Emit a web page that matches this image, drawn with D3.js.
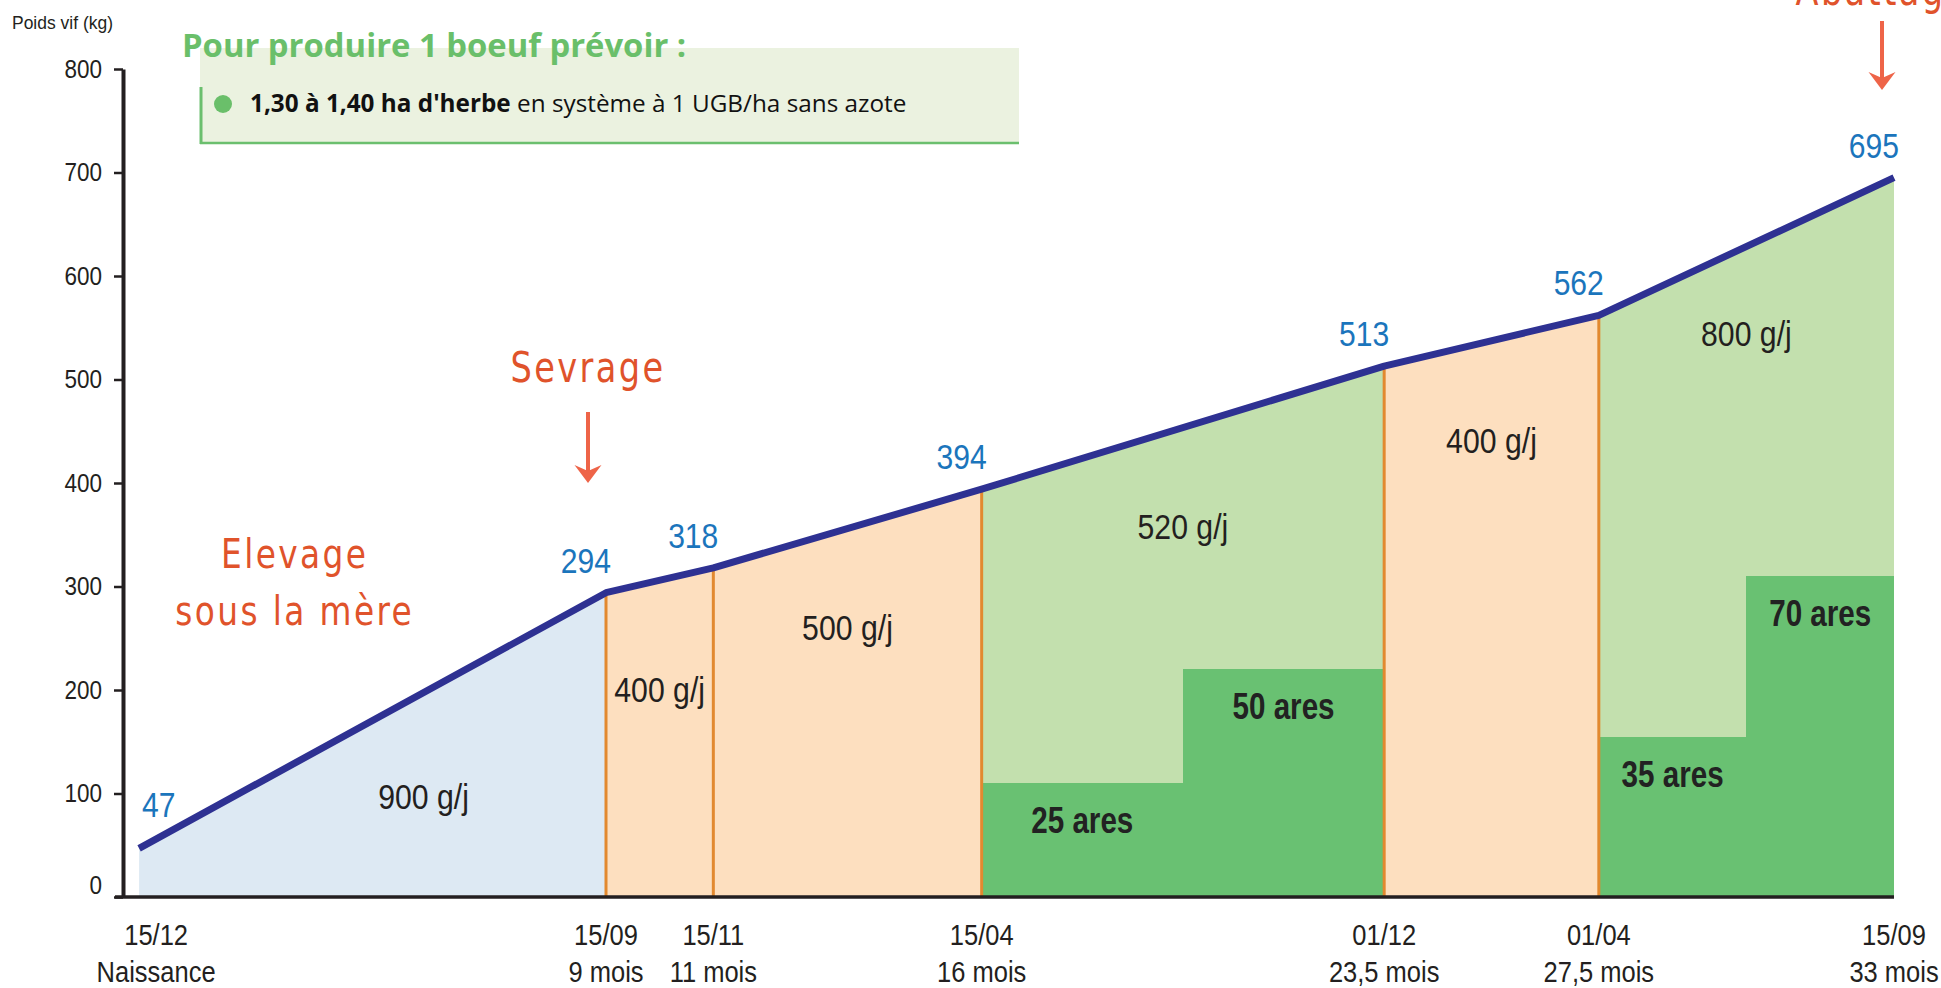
<!DOCTYPE html>
<html>
<head>
<meta charset="utf-8">
<script src="https://cdn.jsdelivr.net/npm/d3@7/dist/d3.min.js"></script>
<style>
  body { margin: 0; background: #fff; }
  svg { display: block; }
</style>
</head>
<body>
<svg width="1941" height="988"></svg>
<script>
// chart values
const dateLabels = ["15/12", "15/09", "15/11", "15/04", "01/12", "01/04", "15/09"];
const ageLabels = ["Naissance", "9 mois", "11 mois", "16 mois", "23,5 mois", "27,5 mois", "33 mois"];
const months = [0.3, 9, 11, 16, 23.5, 27.5, 33];
const weights = [47, 294, 318, 394, 513, 562, 695];

// one entry per period between two dates
const periodKind = ["mere", "bergerie", "bergerie", "herbe", "bergerie", "herbe"];
const gainLabels = ["900 g/j", "400 g/j", "500 g/j", "520 g/j", "400 g/j", "800 g/j"];
const gainMonth = [5.6, 10, 13.5, 19.75, 25.5, 30.25];
const gainKg = [85, 188, 248, 346, 429, 532];

// grazing surfaces
const pastureLabels = ["25 ares", "50 ares", "35 ares", "70 ares"];
const pastureFrom = [16, 19.75, 27.5, 30.25];
const pastureTo = [19.75, 23.5, 30.25, 33];
const pastureKg = [110, 220, 155, 310];

const yTicks = [0, 100, 200, 300, 400, 500, 600, 700, 800];

(function() {
    const svg = d3.select("svg");
    const fontN = "'Liberation Sans', Arial, Helvetica, sans-serif";
    const fontH = "'DejaVu Sans', sans-serif";

    const x = d3.scaleLinear().domain([0, 33]).range([123, 1894]);
    const y = d3.scaleLinear().domain([0, 800]).range([897, 69]);

    const kindFill = { mere: "#dde9f3", bergerie: "#fddfbf", herbe: "#c3e0ae" };

    // condensed text helper (Helvetica Condensed look)
    function ctext(g, px, py, str, size, sx, anchor, weight, fill, family) {
        return g.append("g")
            .attr("transform", `translate(${px},${py}) scale(${sx},1)`)
            .append("text")
            .attr("text-anchor", anchor)
            .attr("font-family", family || fontN)
            .attr("font-size", size)
            .attr("font-weight", weight)
            .attr("fill", fill)
            .text(str);
    }

    // header box
    const head = svg.append("g");
    head.append("rect").attr("x", 200).attr("y", 48).attr("width", 819).attr("height", 96).attr("fill", "#ebf2e0");
    head.append("line").attr("x1", 201).attr("x2", 201).attr("y1", 87).attr("y2", 144)
        .attr("stroke", "#6bbf6e").attr("stroke-width", 3);
    head.append("line").attr("x1", 200).attr("x2", 1019).attr("y1", 143).attr("y2", 143)
        .attr("stroke", "#6bbf6e").attr("stroke-width", 2.5);
    head.append("text").attr("x", 182).attr("y", 57)
        .attr("font-family", "'Open Sans', sans-serif").attr("font-weight", 700).attr("font-size", 32.8)
        .attr("fill", "#6abf6a").text("Pour produire 1 boeuf prévoir :");
    head.append("circle").attr("cx", 223).attr("cy", 104).attr("r", 9).attr("fill", "#6abf6a");
    const t2 = head.append("text").attr("x", 250).attr("y", 112)
        .attr("font-family", "'Open Sans', sans-serif").attr("font-size", 24.3).attr("fill", "#111");
    t2.append("tspan").attr("font-weight", 700).text("1,30 à 1,40 ha d'herbe");
    t2.append("tspan").text(" en système à 1 UGB/ha sans azote");

    // y label
    ctext(svg, 12, 29, "Poids vif (kg)", 19, 0.92, "start", 400, "#231f20");

    // period fills
    const area = d3.area().x(d => x(d[0])).y0(y(0)).y1(d => y(d[1]));
    const plot = svg.append("g");
    periodKind.forEach((k, i) => {
        plot.append("path")
            .attr("d", area([[months[i], weights[i]], [months[i + 1], weights[i + 1]]]))
            .attr("fill", kindFill[k]);
    });

    // grazing surfaces
    plot.selectAll("rect.pasture").data(pastureLabels).join("rect")
        .attr("class", "pasture")
        .attr("x", (d, i) => x(pastureFrom[i]))
        .attr("width", (d, i) => x(pastureTo[i]) - x(pastureFrom[i]))
        .attr("y", (d, i) => y(pastureKg[i]))
        .attr("height", (d, i) => y(0) - y(pastureKg[i]))
        .attr("fill", "#69c172")
        .attr("shape-rendering", "crispEdges");

    pastureLabels.forEach((lab, i) => {
        const cx = (x(pastureFrom[i]) + x(pastureTo[i])) / 2;
        ctext(plot, cx, y(pastureKg[i]) + 50, lab, 37, 0.8, "middle", 700, "#222");
    });

    // period separators
    for (let i = 1; i < months.length - 1; i++) {
        plot.append("line")
            .attr("x1", x(months[i])).attr("x2", x(months[i]))
            .attr("y1", y(0)).attr("y2", y(weights[i]))
            .attr("stroke", "#e2892f").attr("stroke-width", 3);
    }

    // daily gains
    gainLabels.forEach((lab, i) => {
        ctext(plot, x(gainMonth[i]), y(gainKg[i]), lab, 36, 0.84, "middle", 400, "#231f20");
    });

    // weight curve
    const line = d3.line().x((d, i) => x(months[i])).y(d => y(d));
    plot.append("path").attr("d", line(weights))
        .attr("fill", "none").attr("stroke", "#2e3192").attr("stroke-width", 7)
        .attr("stroke-linejoin", "round");

    weights.forEach((w, i) => {
        if (i === 0) ctext(plot, x(months[i]) + 3, y(w) - 31, w, 35, 0.86, "start", 400, "#1b75bc");
        else ctext(plot, x(months[i]) + 5, y(w) - 20, w, 35, 0.86, "end", 400, "#1b75bc");
    });

    // axes
    const yAxis = d3.axisLeft(y).tickValues(yTicks).tickSize(9).tickSizeOuter(0).tickPadding(12);
    const gy = svg.append("g").attr("transform", `translate(${x(0)},0)`).call(yAxis);
    gy.select(".domain").attr("stroke", "#231f20").attr("stroke-width", 4);
    gy.selectAll(".tick line").attr("stroke", "#231f20").attr("stroke-width", 2.5);
    gy.selectAll(".tick text")
        .attr("font-family", fontN).attr("font-size", 25).attr("fill", "#231f20")
        .attr("dy", d => d === 0 ? "-0.15em" : "0.32em")
        .attr("transform", "scale(0.9,1)")
        .attr("x", -21 / 0.9);

    svg.append("line")
        .attr("x1", x(0) - 8).attr("x2", x(33))
        .attr("y1", y(0)).attr("y2", y(0))
        .attr("stroke", "#231f20").attr("stroke-width", 3.5);

    const gx = svg.append("g");
    months.forEach((m, i) => {
        const px = x(m) + (i === 0 ? 17 : 0);
        ctext(gx, px, 945, dateLabels[i], 30, 0.85, "middle", 400, "#231f20");
        ctext(gx, px, 982, ageLabels[i], 30, 0.85, "middle", 400, "#231f20");
    });

    // hand written notes
    const note = svg.append("g");
    const noteColor = "#e0532b", arrowColor = "#ee6448";
    function arrow(ax, top, bottom) {
        note.append("line").attr("x1", ax).attr("x2", ax).attr("y1", top).attr("y2", bottom - 10)
            .attr("stroke", arrowColor).attr("stroke-width", 4);
        note.append("path")
            .attr("d", `M${ax - 13.5},${bottom - 18}L${ax},${bottom - 12}L${ax + 13.5},${bottom - 18}L${ax},${bottom}Z`)
            .attr("fill", arrowColor);
    }
    const sevX = x(months[1]) - 18;
    ctext(note, sevX, 382, "Sevrage", 42, 0.8, "middle", 400, noteColor, fontH).attr("letter-spacing", 3);
    arrow(sevX, 412, 483);

    // cut by the top edge, as in the original
    const abX = x(months[6]) - 12;
    ctext(note, abX, 5, "Abattage", 42, 0.8, "middle", 400, noteColor, fontH).attr("letter-spacing", 3);
    arrow(abX, 21, 90);

    const elX = x(3.2);
    ctext(note, elX, 568, "Elevage", 41, 0.8, "middle", 400, noteColor, fontH).attr("letter-spacing", 3);
    ctext(note, elX, 625, "sous la mère", 41, 0.8, "middle", 400, noteColor, fontH).attr("letter-spacing", 3);
})();
</script>
</body>
</html>
